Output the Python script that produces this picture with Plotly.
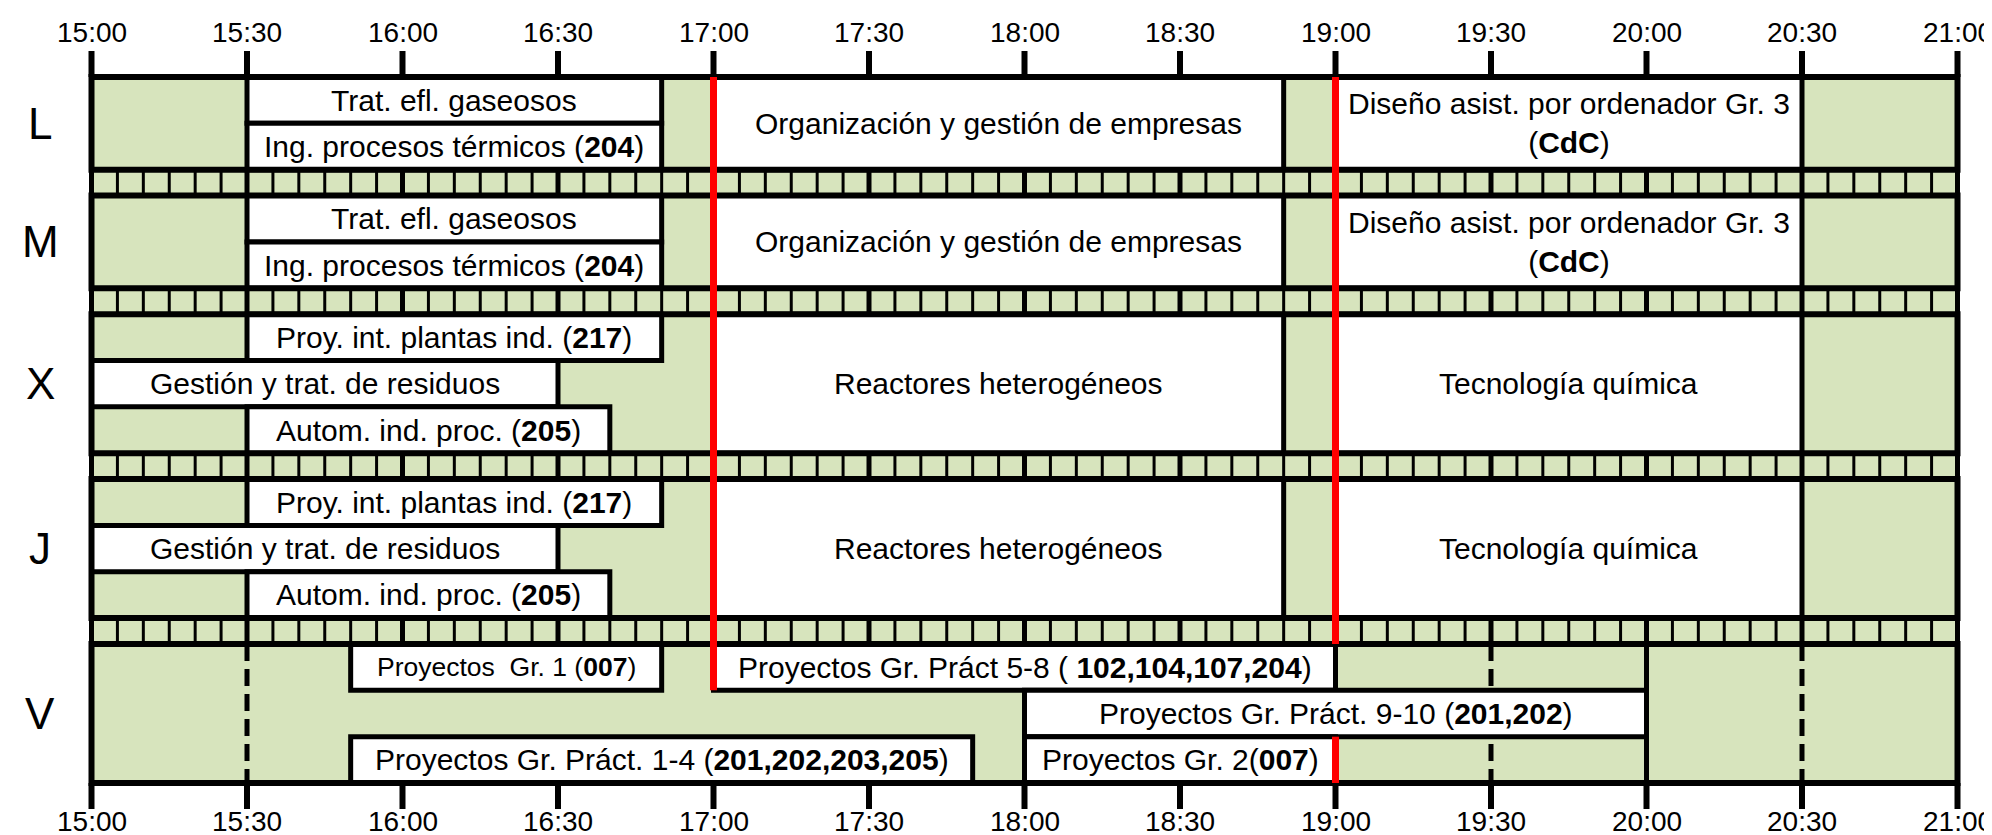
import plotly.graph_objects as go

# ---------------- data ----------------
days = ["L", "M", "X", "J", "V"]
day_subrows = [2, 2, 3, 3, 3]
tick_labels = ["15:00", "15:30", "16:00", "16:30", "17:00", "17:30", "18:00",
               "18:30", "19:00", "19:30", "20:00", "20:30", "21:00"]

sess_day = ["L", "L", "L", "L",
            "M", "M", "M", "M",
            "X", "X", "X", "X", "X",
            "J", "J", "J", "J", "J",
            "V", "V", "V", "V", "V"]
sess_start = ["15:30", "15:30", "17:00", "19:00",
              "15:30", "15:30", "17:00", "19:00",
              "15:30", "15:00", "15:30", "17:00", "19:00",
              "15:30", "15:00", "15:30", "17:00", "19:00",
              "15:50", "17:00", "18:00", "15:50", "18:00"]
sess_end = ["16:50", "16:50", "18:50", "20:30",
            "16:50", "16:50", "18:50", "20:30",
            "16:50", "16:30", "16:40", "18:50", "20:30",
            "16:50", "16:30", "16:40", "18:50", "20:30",
            "16:50", "19:00", "20:00", "17:50", "19:00"]
sess_row = [0, 1, 0, 0,
            0, 1, 0, 0,
            0, 1, 2, 0, 0,
            0, 1, 2, 0, 0,
            0, 0, 1, 2, 2]
sess_span = [1, 1, 2, 2,
             1, 1, 2, 2,
             1, 1, 1, 3, 3,
             1, 1, 1, 3, 3,
             1, 1, 1, 1, 1]
sess_label = [
    "Trat. efl. gaseosos", "Ing. procesos térmicos (<b>204</b>)",
    "Organización y gestión de empresas",
    "Diseño asist. por ordenador Gr. 3<br>(<b>CdC</b>)",
    "Trat. efl. gaseosos", "Ing. procesos térmicos (<b>204</b>)",
    "Organización y gestión de empresas",
    "Diseño asist. por ordenador Gr. 3<br>(<b>CdC</b>)",
    "Proy. int. plantas ind. (<b>217</b>)", "Gestión y trat. de residuos",
    "Autom. ind. proc. (<b>205</b>)", "Reactores heterogéneos", "Tecnología química",
    "Proy. int. plantas ind. (<b>217</b>)", "Gestión y trat. de residuos",
    "Autom. ind. proc. (<b>205</b>)", "Reactores heterogéneos", "Tecnología química",
    "Proyectos\u00a0 Gr. 1 (<b>007</b>)",
    "Proyectos Gr. Práct 5-8 ( <b>102,104,107,204</b>)",
    "Proyectos Gr. Práct. 9-10 (<b>201,202</b>)",
    "Proyectos Gr. Práct. 1-4 (<b>201,202,203,205</b>)",
    "Proyectos Gr. 2(<b>007</b>)",
]

# red marker lines: time, (from day, sub-row), (to day, sub-row)
red_time = ["17:00", "19:00", "19:00"]
red_from = [("L", 0), ("L", 0), ("V", 2)]
red_to = [("V", 1), ("V", 0), ("V", 3)]

# guide lines drawn inside the Friday block
v_dashed = ["15:30", "19:30", "20:30"]
v_solid = ["20:00"]

# ---------------- style / layout ----------------
W, H = 1992, 835
GREEN = "#D7E4BD"
RED = "#FF0000"
FONT = "Liberation Sans, Arial, sans-serif"
X0_PX, X1_PX = 83.5, 1949.5
Y0_PX, Y1_PX = 69, 775
STRIP = 0.56
BOX_LW = 5
FRAME_LW = 6
TEXT_SIZE = 30
TICK_SIZE = 28
DAY_SIZE = 44
small_text = {"Proyectos\u00a0 Gr. 1 (<b>007</b>)": 26.5}


def tmin(s):
    h, m = s.split(":")
    return (int(h) - 15) * 60 + int(m)


day_top = {}
y = 0.0
for d, n in zip(days, day_subrows):
    day_top[d] = y
    y += n + STRIP
total = y - STRIP
day_bottom = {d: day_top[d] + n for d, n in zip(days, day_subrows)}

ppm = (X1_PX - X0_PX) / (tmin("21:00") - tmin("15:00"))
ppu = (Y1_PX - Y0_PX) / total
x_range = [-X0_PX / ppm, (W - X0_PX) / ppm]
y_range = [(H - Y0_PX) / ppu, -Y0_PX / ppu]
t0, t1 = tmin("15:00"), tmin("21:00")

shapes = []
annotations = []


def line(x0, y0, x1, y1, color="black", width=3, dash=None):
    d = dict(type="line", xref="x", yref="y", x0=x0, y0=y0, x1=x1, y1=y1,
             line=dict(color=color, width=width))
    if dash:
        d["line"]["dash"] = dash
    shapes.append(d)


# day backgrounds
for d in days:
    shapes.append(dict(type="rect", xref="x", yref="y", x0=t0, x1=t1,
                       y0=day_top[d], y1=day_bottom[d], fillcolor=GREEN,
                       line=dict(width=0)))

# separator strips
for i in range(len(days) - 1):
    ya, yb = day_bottom[days[i]], day_top[days[i + 1]]
    shapes.append(dict(type="rect", xref="x", yref="y", x0=t0, x1=t1,
                       y0=ya, y1=yb, fillcolor=GREEN, line=dict(width=0)))
    for m in range(t0, t1 + 1, 5):
        line(m, ya, m, yb, width=5 if m % 30 == 0 else 3)

# guide lines in Friday block
for t in v_dashed:
    line(tmin(t), day_top["V"], tmin(t), day_bottom["V"], width=5, dash="17px,8px")
for t in v_solid:
    line(tmin(t), day_top["V"], tmin(t), day_bottom["V"], width=5)

# session boxes
for d, s, e, r, sp in zip(sess_day, sess_start, sess_end, sess_row, sess_span):
    shapes.append(dict(type="rect", xref="x", yref="y", x0=tmin(s), x1=tmin(e),
                       y0=day_top[d] + r, y1=day_top[d] + r + sp,
                       fillcolor="white", line=dict(color="black", width=BOX_LW)))

# day frames
for d in days:
    shapes.append(dict(type="rect", xref="x", yref="y", x0=t0, x1=t1,
                       y0=day_top[d], y1=day_bottom[d],
                       line=dict(color="black", width=FRAME_LW)))

# axis ticks (top & bottom)
tick_len = 26 / ppu
for lab in tick_labels:
    m = tmin(lab)
    line(m, -tick_len, m, 0, width=6)
    line(m, total, m, total + tick_len, width=6)
    annotations.append(dict(x=m, y=(24 - Y0_PX) / ppu, xref="x", yref="y",
                            text=lab, showarrow=False,
                            font=dict(family=FONT, size=TICK_SIZE, color="black")))
    annotations.append(dict(x=m, y=(813 - Y0_PX) / ppu, xref="x", yref="y",
                            text=lab, showarrow=False,
                            font=dict(family=FONT, size=TICK_SIZE, color="black")))

# red lines
for t, (fd, fs), (td, ts) in zip(red_time, red_from, red_to):
    line(tmin(t), day_top[fd] + fs, tmin(t), day_top[td] + ts, color=RED, width=7)

# session labels
for d, s, e, r, sp, lab in zip(sess_day, sess_start, sess_end, sess_row,
                               sess_span, sess_label):
    annotations.append(dict(x=(tmin(s) + tmin(e)) / 2,
                            y=day_top[d] + r + sp / 2, xref="x", yref="y",
                            text=lab, showarrow=False,
                            font=dict(family=FONT, size=small_text.get(lab, TEXT_SIZE),
                                      color="black")))

# day labels
for d, n in zip(days, day_subrows):
    annotations.append(dict(x=(32 - X0_PX) / ppm, y=day_top[d] + n / 2,
                            xref="x", yref="y", text=d, showarrow=False,
                            font=dict(family=FONT, size=DAY_SIZE, color="black")))

fig = go.Figure(go.Scatter(x=[t0], y=[0], mode="markers",
                           marker=dict(opacity=0), hoverinfo="skip",
                           showlegend=False))
fig.update_layout(
    width=W, height=H,
    margin=dict(l=0, r=0, t=0, b=0),
    paper_bgcolor="white", plot_bgcolor="white",
    xaxis=dict(range=x_range, visible=False, fixedrange=True),
    yaxis=dict(range=y_range, visible=False, fixedrange=True),
    shapes=shapes, annotations=annotations, showlegend=False,
)
fig.write_html("out.html")
